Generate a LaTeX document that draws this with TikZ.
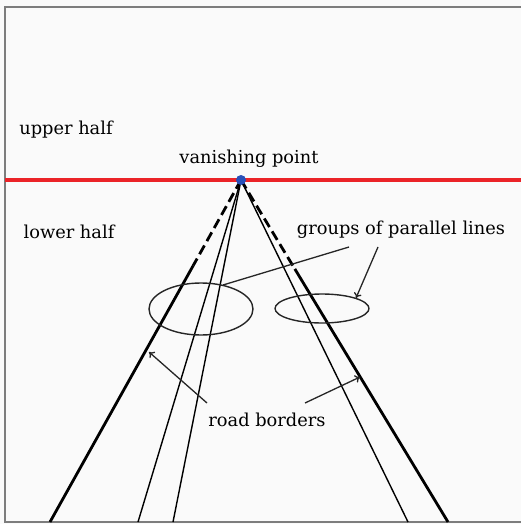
\documentclass[tikz,border=0pt]{standalone}
\usepackage{fontspec}
\setmainfont{DejaVu Serif}
\usetikzlibrary{calc,arrows.meta,shapes.geometric}
\definecolor{framegray}{RGB}{125,125,125}
\definecolor{horizonred}{RGB}{235,35,40}
\definecolor{vpblue}{RGB}{40,80,185}
\tikzset{
  lbl/.style={font=\fontsize{17.8}{20}\selectfont, inner sep=0pt},
  border/.style={line width=2.8pt, black},
  thinline/.style={line width=1.4pt, black},
  ringstyle/.style={line width=1.4pt, black!85, draw, ellipse, inner sep=0pt},
  leader/.style={line width=1.3pt, black!85},
  leadarrow/.style={leader, -{To[length=5pt,width=8pt]}},
}
\begin{document}
\begin{tikzpicture}[x=1pt,y=-1pt]
\useasboundingbox (0,0) rectangle (521,524);
\fill[white!98!black] (0,0) rectangle (521,524);
% frame
\draw[framegray, line width=2pt] (521,7) -- (5,7) -- (5,522) -- (521,522);
% horizon
\draw[horizonred, line width=3.2pt] (5,180) -- (521,180);
% vanishing point and line ends
\coordinate (vp) at (241,180);
\coordinate (lb) at (50,522);
\coordinate (l1) at (138,522);
\coordinate (l2) at (173,522);
\coordinate (r1) at (408,522);
\coordinate (rb) at (448,522);
\coordinate (lm) at ($(vp)!0.25!(lb)$);
\coordinate (rm) at ($(vp)!0.26!(rb)$);
% road borders
\draw[border, dash pattern=on 10pt off 5pt] (vp) -- (lm);
\draw[border] (lm) -- (lb);
\draw[border, dash pattern=on 10pt off 5pt] (vp) -- (rm);
\draw[border] (rm) -- (rb);
% parallel lines
\draw[thinline] (vp) -- (l1);
\draw[thinline] (vp) -- (l2);
\draw[thinline] (vp) -- (r1);
\fill[vpblue] (vp) circle (5pt);
% ellipses
\node[ringstyle, minimum width=104pt, minimum height=52pt] (e1) at (201,309) {};
\node[ringstyle, minimum width=94pt, minimum height=29pt] (e2) at (322,308.5) {};
% labels
\node[lbl] (upper) at (66,130) {upper half};
\node[lbl] (lower) at (69,232) {lower half};
\node[lbl] (vptext) at (249,159) {vanishing point};
\node[lbl] (groups) at (401,230) {groups of parallel lines};
\node[lbl] (roads) at (267,420) {road borders};
% leaders
\coordinate (g1) at (349,247);
\coordinate (g2) at (378,247);
\coordinate (e1top) at (223,285);
\coordinate (e2top) at (356,298);
\coordinate (rd1) at (207,403);
\coordinate (rd2) at (305,403);
\coordinate (ltip) at (149,352);
\coordinate (rtip) at (360,377);
\draw[leader] (g1) -- (e1top);
\draw[leadarrow] (g2) -- (e2top);
\draw[leadarrow] (rd1) -- (ltip);
\draw[leadarrow] (rd2) -- (rtip);
\end{tikzpicture}
\end{document}
